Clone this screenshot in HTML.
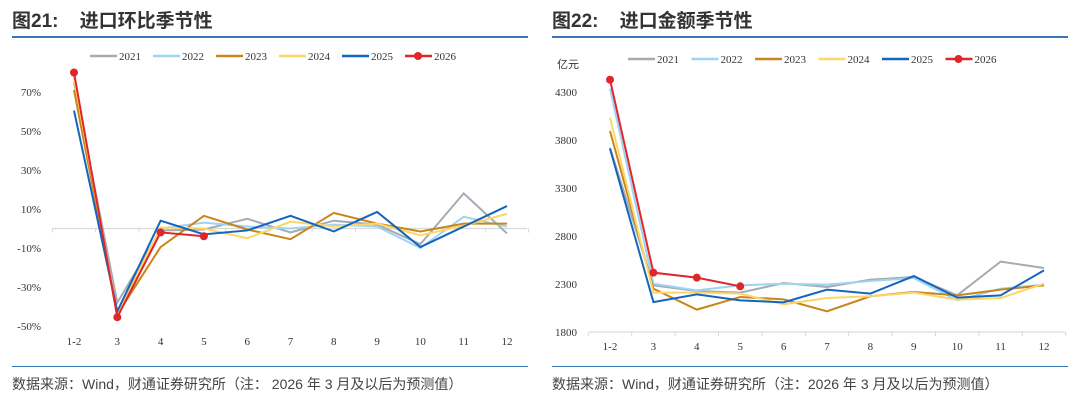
<!DOCTYPE html>
<html><head><meta charset="utf-8"><style>
body{margin:0;background:#fff;width:1080px;height:405px;overflow:hidden;font-family:"Liberation Serif","Noto Serif CJK SC",serif}
.t{position:absolute;font-family:"Liberation Sans","Noto Sans CJK SC",sans-serif;font-size:19px;font-weight:bold;color:#333}
.f{position:absolute;font-family:"Liberation Sans","Noto Sans CJK SC",sans-serif;font-size:14px;color:#444}
.ln{position:absolute;height:2px;background:#3a78b5}
.ln2{position:absolute;height:1px;background:#3a78b5}
</style></head><body>
<div class="t" style="left:12px;top:6px">图21:&nbsp;&nbsp;&nbsp;&nbsp;进口环比季节性</div>
<div class="t" style="left:552px;top:6px">图22:&nbsp;&nbsp;&nbsp;&nbsp;进口金额季节性</div>
<div class="ln" style="left:12px;top:36px;width:516px"></div>
<div class="ln" style="left:552px;top:36px;width:516px"></div>
<div class="ln2" style="left:12px;top:366px;width:516px"></div>
<div class="ln2" style="left:552px;top:366px;width:516px"></div>
<div class="f" style="left:12px;top:374px">数据来源：Wind，财通证券研究所（注：&nbsp;2026 年 3 月及以后为预测值）</div>
<div class="f" style="left:552px;top:374px">数据来源：Wind，财通证券研究所（注：2026 年 3 月及以后为预测值）</div>
<svg id="svg" width="1080" height="405" style="position:absolute;left:0;top:0"></svg>
<script>
const categories=["1-2","3","4","5","6","7","8","9","10","11","12"];
const years=["2021","2022","2023","2024","2025","2026"];
const colors=["#a5abb3","#9dd3f5","#c8861a","#fdd667","#1465bf","#e0262a"];
const mom2021=[75,-38,-1,-0.5,5,-2,4,2,-8,18,-2.5];
const mom2022=[78,-44,0,3,1,0,2,1,-10,6,1];
const mom2023=[71,-44,-9.5,6.5,-0.5,-5.5,8,2.5,-1.5,2.5,2.5];
const mom2024=[77,-44,0.5,0,-5,3.5,1,2.5,-3.5,1.5,7.5];
const mom2025=[60.5,-42.5,4,-3,-1,6.5,-1.5,8.5,-9.5,1,11.5];
const mom2026=[80,-45.5,-2,-4];
const amt2021=[3720,2286,2227,2210,2310,2269,2345,2373,2182,2533,2467];
const amt2022=[4335,2303,2234,2286,2303,2293,2331,2362,2130,2251,2293];
const amt2023=[3894,2251,2033,2165,2140,2015,2172,2217,2182,2241,2286];
const amt2024=[4033,2210,2210,2200,2088,2154,2172,2210,2137,2154,2303];
const amt2025=[3710,2112,2192,2130,2109,2241,2200,2383,2158,2182,2442];
const amt2026=[4428,2418,2366,2276];
const leftTicks=[70,50,30,10,-10,-30,-50];
const rightTicks=[4300,3800,3300,2800,2300,1800];
const NS="http://www.w3.org/2000/svg";
const svg=document.getElementById('svg');
function el(tag,attrs,parent){const e=document.createElementNS(NS,tag);for(const k in attrs)e.setAttribute(k,attrs[k]);(parent||svg).appendChild(e);return e;}
function chart(o){
  const g=el('g',{});
  
  
  const x=i=>o.x0+i*o.step;
  const y=v=>o.y0+(v-o.v0)*(o.y1-o.y0)/(o.v1-o.v0);
  const ax=el('line',{x1:o.ax0,x2:o.ax1,y1:y(o.axisV),y2:y(o.axisV),stroke:'#d9d9d9','stroke-width':1.2},g);
  
  
  for(let i=0;i<=categories.length;i++){
    const tx=x(i)-o.step/2;
    const tk=el('line',{x1:tx,x2:tx,y1:y(o.axisV),y2:y(o.axisV)+4,stroke:'#d9d9d9'},g);
    
    
  }
  categories.forEach((c,i)=>{
    const t=el('text',{x:x(i),y:o.labY,'text-anchor':'middle','font-size':11,fill:'#333'},g);
    t.textContent=c;
    
    
  });
  o.ticks.forEach(v=>{
    const t=el('text',{x:o.tickX,y:y(v)+4,'text-anchor':'end','font-size':11,fill:'#333'},g);
    t.textContent=o.fmt(v);
    
    
  });
  o.series.forEach((s,k)=>{
    const p=el('polyline',{points:s.map((v,i)=>x(i)+','+y(v)).join(' '),fill:'none',stroke:colors[k],'stroke-width':2},g);
    
    
    if(k===5)s.forEach((v,i)=>{
      const c=el('circle',{cx:x(i),cy:y(v),r:4,fill:colors[k]},g);
      
      
    });
  });
  years.forEach((yr,k)=>{
    const lx=o.legX+k*o.legStep;
    const l=el('line',{x1:lx,x2:lx+27,y1:o.legY,y2:o.legY,stroke:colors[k],'stroke-width':2.5},g);
    
    
    if(k===5){const c=el('circle',{cx:lx+13,cy:o.legY,r:4,fill:colors[k]},g);}
    const t=el('text',{x:lx+29,y:o.legY+4,'font-size':11,fill:'#333'},g);
    t.textContent=yr;
    
    
  });
}
chart({name:'mom-chart',x0:74,step:43.3,v0:70,v1:-50,y0:92,y1:326,axisV:0,ax0:52,ax1:527,labY:345,tickX:41,ticks:leftTicks,fmt:v=>v+'%',
  series:[mom2021,mom2022,mom2023,mom2024,mom2025,mom2026],legX:90,legY:56,legStep:63});
chart({name:'amount-chart',x0:610,step:43.4,v0:4300,v1:1800,y0:92,y1:332,axisV:1800,ax0:589,ax1:1065,labY:350,tickX:577,ticks:rightTicks,fmt:v=>String(v),
  series:[amt2021,amt2022,amt2023,amt2024,amt2025,amt2026],legX:628,legY:59,legStep:63.5});
const u=el('text',{x:557,y:68,'font-size':11,fill:'#333','font-family':'"Noto Sans CJK SC",sans-serif'});
u.textContent='亿元';


</script>
</body></html>
